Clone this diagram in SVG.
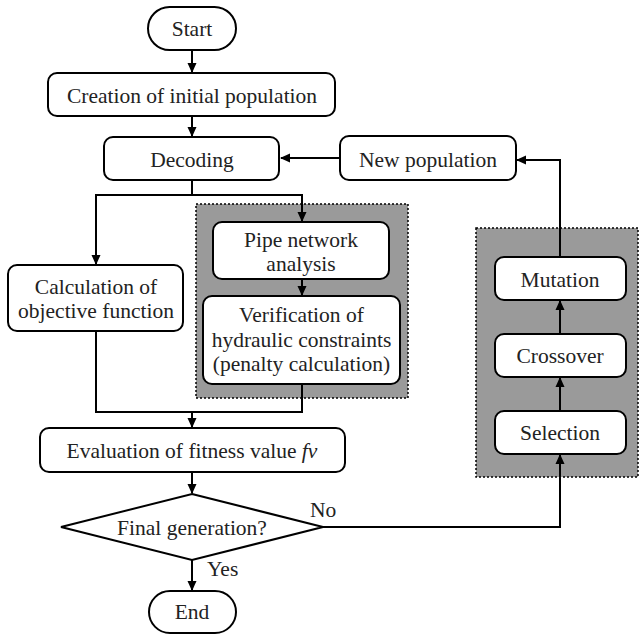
<svg xmlns="http://www.w3.org/2000/svg" width="640" height="637" viewBox="0 0 640 637">
<defs>
<style>
.box{fill:#fff;stroke:#000;stroke-width:2}
.grp{fill:#9a9a9a;stroke:#000;stroke-width:1.5;stroke-dasharray:2 2}
text{font-family:'Liberation Serif','Times New Roman',serif;font-size:21.5px;fill:#222;text-anchor:middle;dominant-baseline:central}
.ln{fill:none;stroke:#000;stroke-width:2}
</style>
<marker id="ah" markerWidth="10" markerHeight="10" refX="9" refY="5" orient="auto" markerUnits="userSpaceOnUse">
<path d="M0,0.5 L10,5 L0,9.5 Z" fill="#000"/>
</marker>
</defs>
<rect width="640" height="637" fill="#fff"/>

<g id="group-left"><rect class="grp" x="196" y="204" width="212" height="194"/></g>
<g id="group-right"><rect class="grp" x="476" y="228" width="162" height="249"/></g>

<g id="connectors">
<line class="ln" x1="192" y1="50" x2="192" y2="72" marker-end="url(#ah)"/>
<line class="ln" x1="192" y1="116" x2="192" y2="136" marker-end="url(#ah)"/>
<polyline class="ln" points="192,180 192,195"/>
<polyline class="ln" points="302,195 96,195 96,264" marker-end="url(#ah)"/>
<polyline class="ln" points="192,195 302,195 302,221" marker-end="url(#ah)"/>
<line class="ln" x1="302" y1="279" x2="302" y2="295" marker-end="url(#ah)"/>
<polyline class="ln" points="96,331 96,412 302,412 302,384"/>
<line class="ln" x1="192" y1="412" x2="192" y2="427" marker-end="url(#ah)"/>
<line class="ln" x1="192" y1="472" x2="192" y2="493" marker-end="url(#ah)"/>
<line class="ln" x1="192" y1="560" x2="192" y2="590" marker-end="url(#ah)"/>
<polyline class="ln" points="323,527 560,527 560,455" marker-end="url(#ah)"/>
<line class="ln" x1="560" y1="411" x2="560" y2="378" marker-end="url(#ah)"/>
<line class="ln" x1="560" y1="334" x2="560" y2="301" marker-end="url(#ah)"/>
<polyline class="ln" points="560,257 560,160 517,160" marker-end="url(#ah)"/>
<line class="ln" x1="340" y1="158" x2="281" y2="158" marker-end="url(#ah)"/>
<text x="310" y="510" style="text-anchor:start">No</text>
<text x="207" y="569" style="text-anchor:start">Yes</text>
</g>

<g id="start"><rect class="box" x="148" y="7" width="88" height="43" rx="21.5"/><text x="192" y="29">Start</text></g>
<g id="creation"><rect class="box" x="48" y="73" width="287" height="43" rx="9"/><text x="192" y="95.5">Creation of initial population</text></g>
<g id="decoding"><rect class="box" x="104" y="137" width="175" height="43" rx="9"/><text x="192" y="159.5">Decoding</text></g>
<g id="newpop"><rect class="box" x="340" y="136" width="176" height="44" rx="9"/><text x="428" y="159.5">New population</text></g>
<g id="calc"><rect class="box" x="8" y="265" width="175" height="66" rx="9"/><text x="96" y="287">Calculation of</text><text x="96" y="311">objective function</text></g>
<g id="pipe"><rect class="box" x="213" y="222" width="176" height="57" rx="9"/><text x="301" y="240">Pipe network</text><text x="301" y="264">analysis</text></g>
<g id="verify"><rect class="box" x="203" y="296" width="197" height="88" rx="9"/><text x="301.5" y="315">Verification of</text><text x="301.5" y="339.5">hydraulic constraints</text><text x="301.5" y="364">(penalty calculation)</text></g>
<g id="eval"><rect class="box" x="40" y="428" width="305" height="44" rx="9"/><text x="192" y="451">Evaluation of fitness value <tspan font-style="italic">fv</tspan></text></g>
<g id="decision"><polygon class="box" points="192,494 323,527 192,560 61,527"/><text x="192" y="528">Final generation?</text></g>
<g id="end"><rect class="box" x="149" y="591" width="87" height="42" rx="21"/><text x="192" y="612">End</text></g>
<g id="mutation"><rect class="box" x="495" y="257" width="131" height="43" rx="9"/><text x="560" y="279.5">Mutation</text></g>
<g id="crossover"><rect class="box" x="495" y="334" width="131" height="43" rx="9"/><text x="560" y="356">Crossover</text></g>
<g id="selection"><rect class="box" x="495" y="411" width="131" height="43" rx="9"/><text x="560" y="433">Selection</text></g>
</svg>
